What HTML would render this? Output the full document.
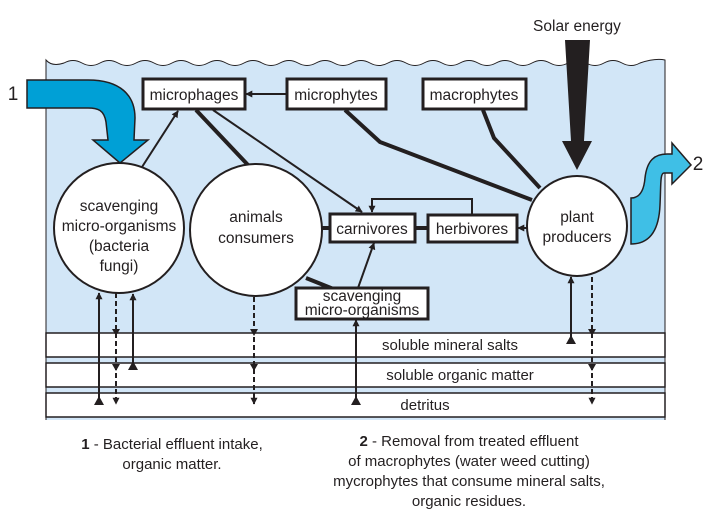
<!DOCTYPE html>
<html><head><meta charset="utf-8"><style>
html,body{margin:0;padding:0;background:#fff;}
svg{display:block;font-family:"Liberation Sans",sans-serif;}
</style></head><body>
<svg width="712" height="512" viewBox="0 0 712 512" xmlns="http://www.w3.org/2000/svg">
<defs>
<marker id="a" viewBox="0 0 10 10" refX="9" refY="5" markerWidth="7" markerHeight="7" orient="auto-start-reverse" markerUnits="userSpaceOnUse"><path d="M0,0L10,5L0,10z" fill="#231f20"/></marker>
</defs>
<!-- water -->
<path d="M46,60 Q52,67 64,63 q9,-5 18,0 q9,5 18,0 q9,-5 18,0 q9,5 18,0 q9,-5 18,0 q9,5 18,0 q9,-5 18,0 q9,5 18,0 q9,-5 18,0 q9,5 18,0 q9,-5 18,0 q9,5 18,0 q9,-5 18,0 q9,5 18,0 q9,-5 18,0 q9,5 18,0 q9,-5 18,0 q9,5 18,0 q9,-5 18,0 q9,5 18,0 q9,-5 18,0 q9,5 18,0 q9,-5 18,0 q9,5 18,0 q9,-5 18,0 q9,5 18,0 q9,-5 18,0 q9,5 18,0 q9,-5 18,0 q9,5 18,0 q9,-5 18,0 q9,5 18,0 Q655,58 665,60 L665,420 L46,420 Z" fill="#d2e6f7"/>
<path d="M46,420 L46,60 Q52,67 64,63 q9,-5 18,0 q9,5 18,0 q9,-5 18,0 q9,5 18,0 q9,-5 18,0 q9,5 18,0 q9,-5 18,0 q9,5 18,0 q9,-5 18,0 q9,5 18,0 q9,-5 18,0 q9,5 18,0 q9,-5 18,0 q9,5 18,0 q9,-5 18,0 q9,5 18,0 q9,-5 18,0 q9,5 18,0 q9,-5 18,0 q9,5 18,0 q9,-5 18,0 q9,5 18,0 q9,-5 18,0 q9,5 18,0 q9,-5 18,0 q9,5 18,0 q9,-5 18,0 q9,5 18,0 q9,-5 18,0 q9,5 18,0 q9,-5 18,0 q9,5 18,0 Q655,58 665,60 L665,420" fill="none" stroke="#231f20" stroke-width="1"/>
<!-- bands -->
<g fill="#fff" stroke="#231f20" stroke-width="1.5">
<rect x="46" y="333" width="619" height="24"/>
<rect x="46" y="363" width="619" height="24"/>
<rect x="46" y="393" width="619" height="24"/>
</g>
<g font-size="15" fill="#231f20" text-anchor="middle">
<text x="450" y="350">soluble mineral salts</text>
<text x="460" y="380">soluble organic matter</text>
<text x="425" y="410">detritus</text>
</g>
<!-- thick lines -->
<g stroke="#231f20" stroke-width="4" fill="none">
<line x1="196" y1="110" x2="248" y2="165"/>
<polyline points="345,110 380,142 532,200"/>
<polyline points="483,110 494,138 540,188"/>
<line x1="322" y1="228" x2="330" y2="228"/>
<line x1="415" y1="228" x2="428" y2="228"/>
<line x1="306" y1="278" x2="336" y2="290"/>
</g>
<!-- thin arrows -->
<g stroke="#231f20" stroke-width="2" fill="none">
<line x1="287" y1="94" x2="246" y2="94" marker-end="url(#a)"/>
<line x1="142" y1="167" x2="178" y2="111" marker-end="url(#a)"/>
<line x1="213" y1="110" x2="362" y2="212" marker-end="url(#a)"/>
<polyline points="472,215 472,199 372,199 372,212" marker-end="url(#a)"/>
<line x1="528" y1="228" x2="518" y2="228" marker-end="url(#a)"/>
<line x1="358" y1="288" x2="374" y2="243" marker-end="url(#a)"/>
<line x1="99" y1="398" x2="99" y2="293" marker-end="url(#a)"/>
<line x1="133" y1="366" x2="133" y2="294" marker-end="url(#a)"/>
<line x1="356" y1="398" x2="356" y2="320" marker-end="url(#a)"/>
<line x1="571" y1="338" x2="571" y2="277" marker-end="url(#a)"/>
</g>
<g stroke="#231f20" stroke-width="2" fill="none" stroke-dasharray="5,3">
<line x1="116" y1="293" x2="116" y2="404" marker-end="url(#a)"/>
<line x1="254" y1="297" x2="254" y2="404" marker-end="url(#a)"/>
<line x1="592" y1="277" x2="592" y2="404" marker-end="url(#a)"/>
</g>
<g fill="#231f20">
<path d="M94,405 L104,405 L99,396Z"/>
<path d="M128,370 L138,370 L133,361Z"/>
<path d="M351,405 L361,405 L356,396Z"/>
<path d="M566,344 L576,344 L571,335Z"/>
<path d="M112,329 L120,329 L116,336Z M112,364 L120,364 L116,371Z"/>
<path d="M250,329 L258,329 L254,336Z M250,364 L258,364 L254,371Z"/>
<path d="M588,329 L596,329 L592,336Z M588,364 L596,364 L592,371Z"/>
</g>
<!-- circles -->
<g fill="#fff" stroke="#231f20" stroke-width="2">
<circle cx="119" cy="228" r="65"/>
<circle cx="256" cy="230" r="66"/>
<circle cx="577" cy="226" r="50"/>
</g>
<!-- boxes -->
<g fill="#fff" stroke="#231f20" stroke-width="3">
<rect x="143" y="79" width="102" height="30"/>
<rect x="287" y="79" width="99" height="30"/>
<rect x="423" y="79" width="103" height="30"/>
<rect x="330" y="214" width="85" height="28"/>
<rect x="428" y="215" width="89" height="27"/>
<rect x="296" y="288" width="132" height="31"/>
</g>
<g font-size="15.5" fill="#231f20" text-anchor="middle">
<text x="194" y="100">microphages</text>
<text x="336" y="100">microphytes</text>
<text x="474" y="100">macrophytes</text>
<text x="372" y="234">carnivores</text>
<text x="472" y="234">herbivores</text>
<text x="362" y="301">scavenging</text>
<text x="362" y="315">micro-organisms</text>
<text x="119" y="211">scavenging</text>
<text x="119" y="231">micro-organisms</text>
<text x="119" y="251">(bacteria</text>
<text x="119" y="271">fungi)</text>
<text x="256" y="222">animals</text>
<text x="256" y="243">consumers</text>
<text x="577" y="222">plant</text>
<text x="577" y="242">producers</text>
<text x="577" y="31">Solar energy</text>
</g>
<!-- solar arrow -->
<path d="M565,40 L590,40 L584,141 L592,141 L577,170 L562,141 L571,141 Z" fill="#231f20"/>
<!-- arrow 1 -->
<path d="M27,80 L88,80 C120,80 135,95 135,118 L134,140 L148,140 L120,163 L93,140 L108,140 L106,122 C104,110 98,108 88,108 L27,108 Z" fill="#00a0d6" stroke="#231f20" stroke-width="1.5"/>
<text x="13" y="100" font-size="19" fill="#231f20" text-anchor="middle">1</text>
<!-- arrow 2 -->
<path d="M631,244 L631,198 C640,198 644,190 645,178 C647,160 655,154 667,154 L672,154 L672,143 L691,165 L672,184 L672,173 L664,173 C660,173 661,185 660,205 C659,230 650,244 631,244 Z" fill="#3fbfe6" stroke="#231f20" stroke-width="1.5"/>
<text x="698" y="170" font-size="19" fill="#231f20" text-anchor="middle">2</text>
<!-- captions -->
<g font-size="15" fill="#231f20" text-anchor="middle">
<text x="172" y="449"><tspan font-weight="bold">1</tspan> - Bacterial effluent intake,</text>
<text x="172" y="469">organic matter.</text>
<text x="469" y="446"><tspan font-weight="bold">2</tspan> - Removal from treated effluent</text>
<text x="469" y="466">of macrophytes (water weed cutting)</text>
<text x="469" y="486">mycrophytes that consume mineral salts,</text>
<text x="469" y="506">organic residues.</text>
</g>
</svg>
</body></html>
